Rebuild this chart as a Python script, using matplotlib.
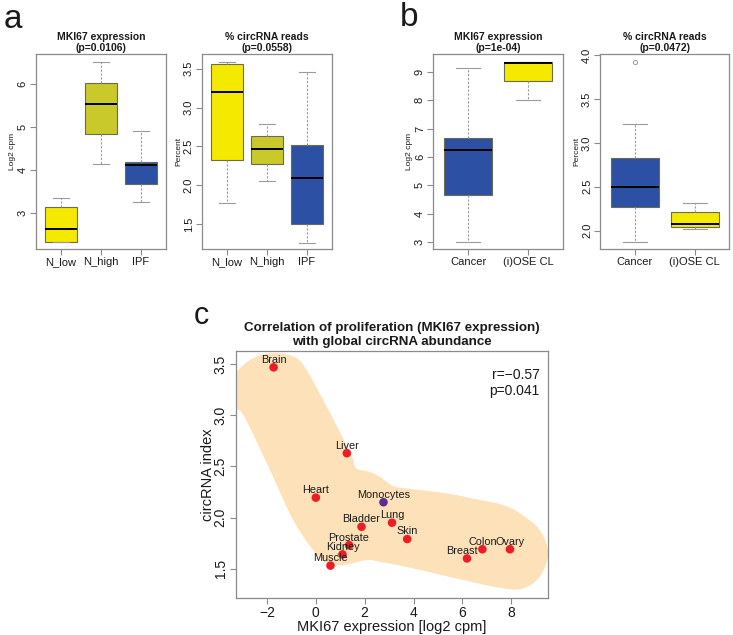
import numpy as np
import matplotlib
matplotlib.use("Agg")
import matplotlib.pyplot as plt
from matplotlib.patches import Polygon

plt.rcParams['font.family'] = ['Liberation Sans', 'DejaVu Sans']

# ---------------- data ----------------
# panel a, left: MKI67 expression (Log2 cpm)
a1_groups = ["N_low", "N_high", "IPF"]
a1_whislo = [2.33, 4.15, 3.27]
a1_q1 = [2.33, 4.84, 3.68]
a1_med = [2.63, 5.53, 4.11]
a1_q3 = [3.14, 6.02, 4.20]
a1_whishi = [3.36, 6.51, 4.90]

# panel a, right: % circRNA reads
a2_groups = ["N_low", "N_high", "IPF"]
a2_whislo = [1.77, 2.06, 1.26]
a2_q1 = [2.32, 2.27, 1.50]
a2_med = [3.20, 2.47, 2.09]
a2_q3 = [3.557, 2.63, 2.52]
a2_whishi = [3.586, 2.79, 3.46]

# panel b, left: MKI67 expression
b1_groups = ["Cancer", "(i)OSE CL"]
b1_whislo = [3.00, 8.02]
b1_q1 = [4.66, 8.67]
b1_med = [6.24, 9.33]
b1_q3 = [6.68, 9.34]
b1_whishi = [9.12, 9.34]

# panel b, right: % circRNA reads
b2_groups = ["Cancer", "(i)OSE CL"]
b2_whislo = [1.87, 2.02]
b2_q1 = [2.27, 2.04]
b2_med = [2.50, 2.08]
b2_q3 = [2.83, 2.21]
b2_whishi = [3.22, 2.31]
b2_outliers = [[3.93], []]

# panel c: tissues
tissues = ["Brain", "Liver", "Heart", "Monocytes", "Bladder", "Lung", "Skin",
           "Prostate", "Kidney", "Muscle", "Breast", "Colon", "Ovary"]
mki67 = [-1.73, 1.27, 0.00, 2.77, 1.87, 3.12, 3.74, 1.36, 1.09, 0.60, 6.19, 6.82, 7.95]
circ_index = [3.47, 2.63, 2.195, 2.15, 1.91, 1.95, 1.79, 1.73, 1.64, 1.53, 1.60, 1.69, 1.69]

# highlighted background region (outline, data units)
shape_x = [-3.45, -3.45, -3.11, -2.43, -1.61, -0.79, -0.30, 0.62, 1.42, 1.62, 1.90, 2.21,
           2.55, 2.89, 3.23, 3.98, 5.35, 6.71, 7.67, 8.35, 9.17, 9.51, 9.17, 8.49, 7.67,
           6.03, 3.98, 2.62, 2.07, 1.12, 0.44, -0.11, -0.93, -1.88, -2.97, -3.35]
shape_y = [3.10, 3.32, 3.461, 3.575, 3.608, 3.559, 3.412, 3.004, 2.629, 2.49, 2.462, 2.446,
           2.410, 2.352, 2.303, 2.277, 2.237, 2.172, 2.123, 2.042, 1.878, 1.650, 1.422, 1.307,
           1.307, 1.389, 1.503, 1.568, 1.584, 1.536, 1.550, 1.683, 1.976, 2.466, 3.004, 3.05]

# ---------------- styling ----------------
YELLOW = "#F5E900"
OLIVE = "#C9C92B"
BLUE = "#2C50A3"
FRAME = "#8a8a8a"
TXT = "#1a1a1a"

W, H = 733, 635
fig = plt.figure(figsize=(W / 100, H / 100), dpi=100)


def px_axes(x0, y0, x1, y1):
    return fig.add_axes([x0 / W, 1 - y1 / H, (x1 - x0) / W, (y1 - y0) / H])


def style_axes(ax, fs=8):
    for s in ax.spines.values():
        s.set_color(FRAME)
        s.set_linewidth(0.9)
    ax.tick_params(axis='both', colors=FRAME, labelcolor=TXT, labelsize=fs,
                   length=4, width=0.8, direction='out')
    for lab in ax.get_yticklabels():
        lab.set_rotation(90)
        lab.set_va('center')


def box_panel(ax, groups, wlo, q1, med, q3, whi, colors, ylim, yticks, ylabel,
              title, fliers=None, yfmt="{:g}"):
    stats = []
    for i, g in enumerate(groups):
        stats.append(dict(label=g, whislo=wlo[i], q1=q1[i], med=med[i], q3=q3[i],
                          whishi=whi[i], fliers=(fliers[i] if fliers else [])))
    n = len(groups)
    pos = np.arange(1, n + 1)
    bp = ax.bxp(stats, positions=pos, widths=0.8, patch_artist=True,
                capwidths=0.4,
                boxprops=dict(edgecolor="#6b6b55", linewidth=0.8),
                medianprops=dict(color="black", linewidth=1.4),
                whiskerprops=dict(color="#9a9a9a", linewidth=0.8, linestyle=(0, (2, 1.5))),
                capprops=dict(color="#9a9a9a", linewidth=0.8),
                flierprops=dict(marker='o', markersize=3, markerfacecolor='none',
                                markeredgecolor="#9a9a9a", markeredgewidth=0.7))
    for patch, c in zip(bp['boxes'], colors):
        patch.set_facecolor(c)
    span = n - 1 + 1.0
    ext = 0.04 * span
    ax.set_xlim(0.5 - ext, n + 0.5 + ext)
    ax.set_ylim(*ylim)
    ax.set_xticks(pos)
    ax.set_xticklabels(groups)
    ax.set_yticks(yticks)
    ax.set_yticklabels([yfmt.format(t) for t in yticks])
    style_axes(ax, fs=8)
    ax.tick_params(axis='x', pad=2)
    ax.tick_params(axis='y', pad=2)
    ax.set_ylabel(ylabel, fontsize=6, color=TXT, labelpad=1.2)
    ax.set_title(title, fontsize=7.5, fontweight='bold', color=TXT, pad=2,
                 linespacing=1.15)


ax1 = px_axes(36, 54, 165.7, 249)
box_panel(ax1, a1_groups, a1_whislo, a1_q1, a1_med, a1_q3, a1_whishi,
          [YELLOW, OLIVE, BLUE], (2.17, 6.70), [3, 4, 5, 6], "Log2 cpm",
          "MKI67 expression\n(p=0.0106)")

ax2 = px_axes(202, 54, 331.7, 249)
box_panel(ax2, a2_groups, a2_whislo, a2_q1, a2_med, a2_q3, a2_whishi,
          [YELLOW, OLIVE, BLUE], (1.18, 3.69), [1.5, 2.0, 2.5, 3.0, 3.5], "Percent",
          "% circRNA reads\n(p=0.0558)", yfmt="{:.1f}")

ax3 = px_axes(433.3, 54, 563.3, 249)
box_panel(ax3, b1_groups, b1_whislo, b1_q1, b1_med, b1_q3, b1_whishi,
          [BLUE, YELLOW], (2.76, 9.63), [3, 4, 5, 6, 7, 8, 9], "Log2 cpm",
          "MKI67 expression\n(p=1e-04)")

ax4 = px_axes(600.3, 54, 729.3, 249)
box_panel(ax4, b2_groups, b2_whislo, b2_q1, b2_med, b2_q3, b2_whishi,
          [BLUE, YELLOW], (1.79, 4.016), [2.0, 2.5, 3.0, 3.5, 4.0], "Percent",
          "% circRNA reads\n(p=0.0472)", fliers=b2_outliers, yfmt="{:.1f}")

# ---------------- panel c ----------------
axc = px_axes(236, 350.7, 548.3, 597.7)
xlim_c = (-3.27, 9.52)
ylim_c = (1.216, 3.633)
axc.set_xlim(*xlim_c)
axc.set_ylim(*ylim_c)

# smooth the background outline (closed Catmull-Rom in scaled space)
sx = np.array(shape_x) * 24.4
sy = np.array(shape_y) * 102.2
P = np.column_stack([sx, sy])
nP = len(P)
pts = []
for i in range(nP):
    p0, p1, p2, p3 = P[(i - 1) % nP], P[i], P[(i + 1) % nP], P[(i + 2) % nP]
    for t in np.linspace(0, 1, 12, endpoint=False):
        t2, t3 = t * t, t * t * t
        pts.append(0.5 * ((2 * p1) + (-p0 + p2) * t + (2 * p0 - 5 * p1 + 4 * p2 - p3) * t2
                          + (-p0 + 3 * p1 - 3 * p2 + p3) * t3))
pts = np.array(pts)
pts[:, 0] /= 24.4
pts[:, 1] /= 102.2
axc.add_patch(Polygon(pts, closed=True, facecolor="#FDE1B8", edgecolor='none', zorder=1))

pt_colors = ["#5B2D8E" if t == "Monocytes" else "#EE1C25" for t in tissues]
axc.scatter(mki67, circ_index, s=38, c=pt_colors, edgecolors='none', zorder=3)
label_dx = {"Breast": -3.5}
for t, x, y in zip(tissues, mki67, circ_index):
    axc.annotate(t, (x, y), xytext=(label_dx.get(t, 0), 5.5), textcoords='offset points',
                 ha='center', va='center', fontsize=7.8, color=TXT, zorder=4)

axc.set_xticks([-2, 0, 2, 4, 6, 8])
axc.set_yticks([1.5, 2.0, 2.5, 3.0, 3.5])
axc.set_yticklabels(["1.5", "2.0", "2.5", "3.0", "3.5"])
style_axes(axc, fs=10)
axc.tick_params(axis='x', pad=2)
axc.tick_params(axis='y', pad=2)
axc.set_xlabel("MKI67 expression [log2 cpm]", fontsize=10.5, color=TXT, labelpad=0)
axc.set_ylabel("circRNA index", fontsize=10.5, color=TXT, labelpad=-1)
axc.set_title("Correlation of proliferation (MKI67 expression)\nwith global circRNA abundance",
              fontsize=9.6, fontweight='bold', color=TXT, pad=4, linespacing=1.2)
axc.text(0.972, 0.93, "r=\u22120.57\np=0.041", transform=axc.transAxes, ha='right',
         va='top', fontsize=10, color=TXT, linespacing=1.2)

# panel letters
fig.text(13 / W, 1 - 19 / H, "a", fontsize=24, ha='center', va='center', color=TXT)
fig.text(409 / W, 1 - 17 / H, "b", fontsize=24, ha='center', va='center', color=TXT)
fig.text(201 / W, 1 - 316 / H, "c", fontsize=22, ha='center', va='center', color=TXT)

fig.savefig("out.png", dpi=100)
